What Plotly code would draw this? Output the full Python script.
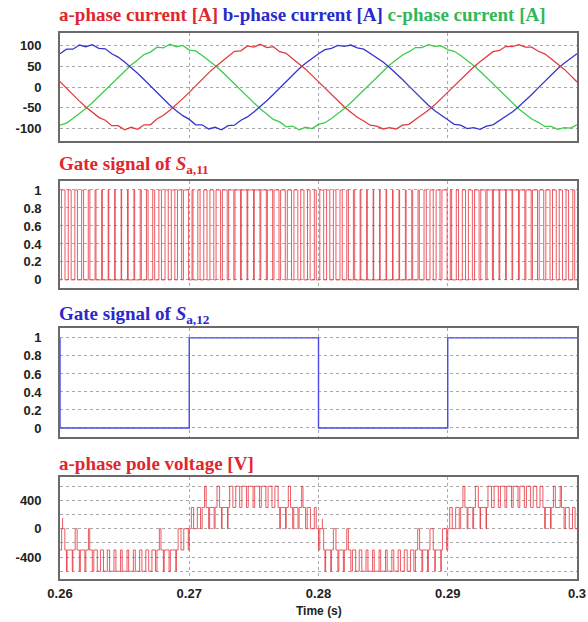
import plotly.graph_objects as go

# ---------------- data ----------------
t_start = 0.26
t_end = 0.30
dt_cur = 0.0005          # sample spacing of the current readings
T_carrier = 0.0005       # carrier period of the PWM signals

# phase currents [A], one reading every 0.5 ms from 0.26 s to 0.30 s (81 readings)
ia = [13, -3, -19, -34, -48, -61, -73, -80, -93, -93, -103, -97, -102, -91, -91, -77, -68, -56, -43, -28,
      -13, 3, 19, 34, 48, 61, 73, 86, 87, 99, 96, 103, 95, 97, 85, 81, 68, 56, 43, 28,
      13, -3, -19, -34, -48, -61, -73, -82, -92, -94, -101, -98, -101, -92, -90, -78, -68, -56, -43, -28,
      -13, 3, 19, 34, 48, 61, 73, 85, 88, 98, 97, 102, 96, 96, 86, 80, 68, 56, 43, 28,
      12]
ib = [80, 91, 91, 101, 97, 102, 93, 92, 80, 72, 60, 47, 33, 18, 2, -14, -29, -44, -57, -69,
      -78, -91, -91, -101, -97, -103, -93, -92, -80, -72, -60, -47, -33, -18, -2, 14, 29, 44, 57, 69,
      80, 90, 93, 100, 98, 101, 94, 91, 81, 72, 60, 47, 33, 18, 2, -14, -29, -44, -57, -69,
      -79, -90, -92, -100, -98, -102, -94, -91, -81, -72, -60, -47, -33, -18, -2, 14, 29, 44, 57, 69,
      80]
ic = [-92, -87, -76, -65, -52, -38, -23, -7, 8, 24, 39, 53, 65, 78, 84, 96, 94, 103, 97, 100,
      89, 87, 76, 65, 52, 38, 23, 7, -8, -24, -39, -53, -65, -78, -84, -96, -94, -103, -97, -100,
      -90, -86, -76, -65, -52, -38, -23, -7, 8, 24, 39, 53, 65, 77, 85, 95, 95, 102, 98, 99,
      90, 86, 76, 65, 52, 38, 23, 7, -8, -24, -39, -53, -65, -77, -85, -95, -95, -102, -98, -99,
      -91]

# gate signal S_a,11 : on-time fraction in each carrier period (80 periods)
s11_duty = [0.55, 0.45, 0.4, 0.3, 0.25, 0.15, 0.12, 0.1, 0.08, 0.08, 0.1, 0.12, 0.18, 0.25, 0.3, 0.4, 0.5, 0.55, 0.65, 0.8,
            0.15, 0.35, 0.5, 0.6, 0.7, 0.75, 0.8, 0.85, 0.88, 0.9, 0.88, 0.85, 0.82, 0.78, 0.72, 0.65, 0.6, 0.5, 0.4, 0.3,
            0.6, 0.5, 0.4, 0.35, 0.25, 0.2, 0.12, 0.1, 0.08, 0.08, 0.1, 0.08, 0.1, 0.12, 0.15, 0.2, 0.35, 0.5, 0.6, 0.8,
            0.2, 0.35, 0.5, 0.62, 0.7, 0.78, 0.82, 0.86, 0.9, 0.88, 0.9, 0.86, 0.82, 0.78, 0.7, 0.65, 0.58, 0.5, 0.4, 0.3]

# gate signal S_a,12 : switching instants and level after each instant
s12_init = 1
s12_edges = [0.26, 0.27, 0.28, 0.29]
s12_levels = [0, 1, 0, 1]

# a-phase pole voltage [V]: lower level of each carrier period and fraction at the upper level
v_step = 300
v_base = [-300, -600, -300, -600, -300, -600, -600, -600, -600, -600, -600, -600, -600, -600, -600, -300, -600, -600, -300, -300,
          0, 0, 300, 0, 300, 0, 300, 300, 300, 300, 300, 300, 300, 300, 0, 300, 0, 300, 0, 0,
          -300, -600, -300, -600, -300, -600, -600, -600, -600, -600, -600, -600, -600, -600, -600, -300, -600, -300, -600, -300,
          0, 0, 300, 0, 300, 0, 300, 300, 300, 300, 300, 300, 300, 300, 300, 0, 300, 300, 0, 0]
v_duty = [0.5, 0.8, 0.3, 0.7, 0.2, 0.55, 0.45, 0.35, 0.3, 0.25, 0.25, 0.3, 0.35, 0.45, 0.55, 0.25, 0.75, 0.85, 0.45, 0.7,
          0.35, 0.5, 0.25, 0.7, 0.4, 0.85, 0.5, 0.6, 0.7, 0.75, 0.75, 0.7, 0.6, 0.5, 0.8, 0.35, 0.65, 0.2, 0.5, 0.3,
          0.6, 0.8, 0.4, 0.7, 0.25, 0.5, 0.4, 0.3, 0.25, 0.25, 0.25, 0.3, 0.35, 0.45, 0.5, 0.3, 0.75, 0.5, 0.85, 0.65,
          0.4, 0.55, 0.3, 0.75, 0.45, 0.85, 0.55, 0.65, 0.7, 0.75, 0.75, 0.7, 0.65, 0.55, 0.45, 0.8, 0.3, 0.2, 0.6, 0.4]
# short transients visible in the pole voltage
spike_t = [0.2602, 0.2803]
spike_v = [150, 140]

# axis ticks
x_ticks = [0.26, 0.27, 0.28, 0.29, 0.30]
x_ticktext = ["0.26", "0.27", "0.28", "0.29", "0.3"]
i_ticks = [-100, -50, 0, 50, 100]
g_ticks = [0, 0.2, 0.4, 0.6, 0.8, 1]
g_ticktext = ["0", "0.2", "0.4", "0.6", "0.8", "1"]
v_ticks = [-600, -400, -200, 0, 200, 400, 600]
v_ticktext = ["", "-400", "", "0", "", "400", ""]

# ---------------- helpers ----------------
def pwm_trace(base, duty, step):
    xs, ys = [], []
    for k, (lo, d) in enumerate(zip(base, duty)):
        t0 = t_start + k * T_carrier
        t1 = t0 + T_carrier
        a = t0 + T_carrier * (1 - d) / 2
        b = t0 + T_carrier * (1 + d) / 2
        hi = lo + step
        xs += [t0, a, a, b, b, t1]
        ys += [lo, lo, hi, hi, lo, lo]
    return xs, ys

t_cur = [t_start + i * dt_cur for i in range(len(ia))]

RED = "#e23a3e"
BLUE = "#3535cc"
GREEN = "#3ccc4c"
PWM_RED = "rgba(230,45,55,0.78)"

fig = go.Figure()

# panel 1: currents
fig.add_trace(go.Scatter(x=t_cur, y=ic, mode="lines", line=dict(color=GREEN, width=1.3), xaxis="x", yaxis="y"))
fig.add_trace(go.Scatter(x=t_cur, y=ib, mode="lines", line=dict(color=BLUE, width=1.3), xaxis="x", yaxis="y"))
fig.add_trace(go.Scatter(x=t_cur, y=ia, mode="lines", line=dict(color=RED, width=1.3), xaxis="x", yaxis="y"))

# panel 2: S_a,11
s11_base = [0] * len(s11_duty)
x11, y11 = pwm_trace(s11_base, s11_duty, 1)
fig.add_trace(go.Scatter(x=x11, y=y11, mode="lines", line=dict(color=PWM_RED, width=1), xaxis="x2", yaxis="y2"))

# panel 3: S_a,12
x12, y12 = [s12_edges[0]], [s12_init]
prev = s12_init
for te, lv in zip(s12_edges, s12_levels):
    x12 += [te, te]
    y12 += [prev, lv]
    prev = lv
x12.append(t_end)
y12.append(prev)
fig.add_trace(go.Scatter(x=x12, y=y12, mode="lines", line=dict(color="#4a4ae0", width=1.4), xaxis="x3", yaxis="y3"))

# panel 4: pole voltage
xv, yv = pwm_trace(v_base, v_duty, v_step)
fig.add_trace(go.Scatter(x=xv, y=yv, mode="lines", line=dict(color=PWM_RED, width=1), xaxis="x4", yaxis="y4"))
for st, sv in zip(spike_t, spike_v):
    fig.add_trace(go.Scatter(x=[st, st], y=[0, sv], mode="lines", line=dict(color=PWM_RED, width=1),
                             xaxis="x4", yaxis="y4"))

# ---------------- layout ----------------
W, H = 588, 622
xdom = [60 / W, 577 / W]
def ydom(top, bottom):
    return [1 - bottom / H, 1 - top / H]

grid = dict(showgrid=True, gridcolor="#a8a8a8", griddash="dot", gridwidth=1, zeroline=False,
            showline=True, mirror=True, linecolor="#6a6a6a", linewidth=1.6, ticks="", automargin=False)
tickfont = dict(family="Liberation Sans, Arial", size=13, color="#222222", weight="bold")

layout = dict(
    width=W, height=H, margin=dict(l=0, r=0, t=0, b=0, autoexpand=False),
    paper_bgcolor="white", plot_bgcolor="white", showlegend=False,
)
panels = [(33, 141, [-130, 130], i_ticks, [str(v) for v in i_ticks]),
          (181, 288, [-0.09, 1.1], g_ticks, g_ticktext),
          (328, 437, [-0.1, 1.11], g_ticks, g_ticktext),
          (477, 579, [-710, 730], v_ticks, v_ticktext)]
for i, (top, bot, yr, tv, tt) in enumerate(panels, start=1):
    sx = "" if i == 1 else str(i)
    layout["xaxis" + sx] = dict(domain=xdom, anchor="y" + sx, range=[t_start, t_end],
                                tickvals=x_ticks, ticktext=x_ticktext,
                                showticklabels=(i == 4), tickfont=tickfont,
                                ticklabelstandoff=2, **grid)
    layout["yaxis" + sx] = dict(domain=ydom(top, bot), anchor="x" + sx, range=yr,
                                tickvals=tv, ticktext=tt, tickfont=tickfont,
                                ticklabelstandoff=14, **grid)
fig.update_layout(**layout)

title_font = dict(family="Liberation Serif, Times New Roman", size=19)
def ypos(px):
    return 1 - px / H

annots = [
    (15, "<b><span style='color:#e0262e'>a-phase current [A]</span> "
         "<span style='color:#2a2acc'>b-phase current [A]</span> "
         "<span style='color:#2fb85a'>c-phase current [A]</span></b>"),
    (165, "<b><span style='color:#e0262e'>Gate signal of <i>S</i><sub>a,11</sub></span></b>"),
    (315, "<b><span style='color:#2a2acc'>Gate signal of <i>S</i><sub>a,12</sub></span></b>"),
    (463, "<b><span style='color:#e0262e'>a-phase pole voltage [V]</span></b>"),
]
for ypx, txt in annots:
    fig.add_annotation(text=txt, xref="paper", yref="paper", x=57 / W, y=ypos(ypx),
                       xanchor="left", yanchor="middle", showarrow=False, font=title_font)
fig.add_annotation(text="<b>Time (s)</b>", xref="paper", yref="paper", x=318.5 / W, y=ypos(611),
                   xanchor="center", yanchor="middle", showarrow=False,
                   font=dict(family="Liberation Sans, Arial", size=12, color="#222222"))

fig.write_html("out.html")
